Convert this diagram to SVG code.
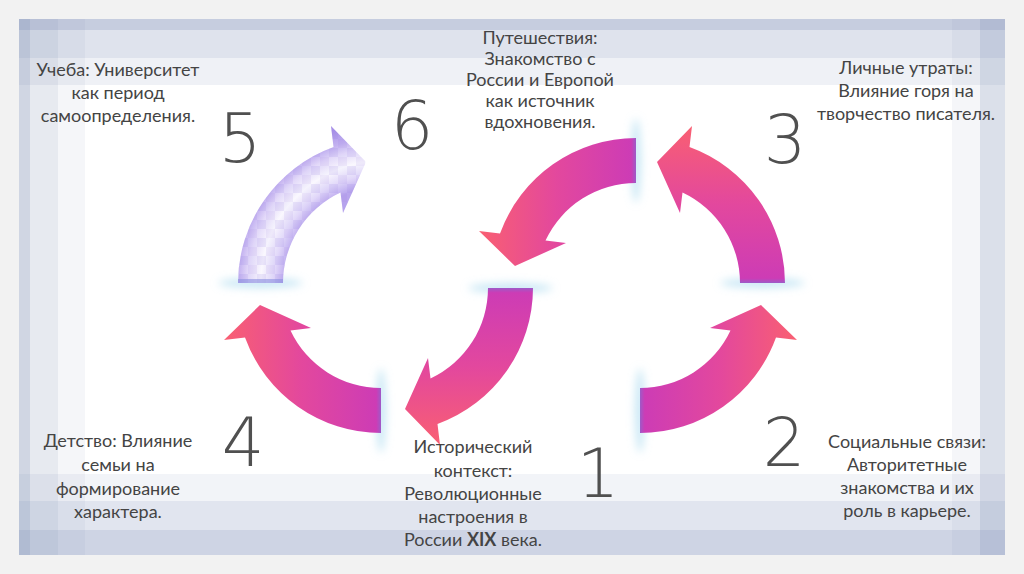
<svg xmlns="http://www.w3.org/2000/svg" width="1024" height="574" viewBox="0 0 1024 574">
<defs>
  <style>
    .lbl { font-family: Lato, "Open Sans", "Liberation Sans", sans-serif; font-size: 18px; fill: #444444; text-anchor: middle; }
    .num { font-family: "DejaVu Sans", "Liberation Sans", sans-serif; font-weight: 200; font-size: 67px; fill: #505050; text-anchor: middle; }
    .band { fill: #8090b8; }
  </style>
  <linearGradient id="arrowGrad" gradientUnits="userSpaceOnUse" x1="0" y1="0" x2="0" y2="-160">
    <stop offset="0" stop-color="#9d5ac8"/>
    <stop offset="0.03" stop-color="#cd3cb5"/>
    <stop offset="0.5" stop-color="#e3489d"/>
    <stop offset="1" stop-color="#fa6070"/>
  </linearGradient>
  <radialGradient id="paleGrad" gradientUnits="userSpaceOnUse" cx="0" cy="0" r="165">
    <stop offset="0.58" stop-color="#b9a6ee"/>
    <stop offset="0.66" stop-color="#e2d9fa"/>
    <stop offset="0.74" stop-color="#fcfbff"/>
    <stop offset="0.82" stop-color="#e4dbfa"/>
    <stop offset="0.88" stop-color="#c4b3f1"/>
    <stop offset="1" stop-color="#a28ae6"/>
  </radialGradient>
  <pattern id="pix" patternUnits="userSpaceOnUse" width="18" height="18">
    <rect x="0" y="0" width="9" height="9" fill="#8a70d8" fill-opacity="0.12"/>
    <rect x="9" y="0" width="9" height="9" fill="#8a70d8" fill-opacity="0.02"/>
    <rect x="0" y="9" width="9" height="9" fill="#8a70d8" fill-opacity="0.06"/>
    <rect x="9" y="9" width="9" height="9" fill="#8a70d8" fill-opacity="0.16"/>
  </pattern>
  <filter id="blur" x="-50%" y="-400%" width="200%" height="900%">
    <feGaussianBlur stdDeviation="4"/>
  </filter>
  <path id="arrowShape" d="M145,0 L100,0 A100,100 0 0 0 42.5,-90.5 L40,-70 L17,-121 L52,-157 L49.5,-136 A145,145 0 0 1 145,0 Z"/>
  <ellipse id="glowShape" cx="122.5" cy="0" rx="42" ry="5" fill="#9ad4ec" fill-opacity="0.55" filter="url(#blur)"/>
</defs>

<!-- page and frame -->
<rect x="0" y="0" width="1024" height="574" fill="#f2f2f2"/>
<rect x="19" y="19" width="986" height="536" fill="#ffffff"/>
<g id="frame">
  <rect class="band" x="19" y="19" width="986" height="66" fill-opacity="0.13"/>
  <rect class="band" x="19" y="19" width="986" height="39" fill-opacity="0.14"/>
  <rect class="band" x="19" y="19" width="986" height="11" fill-opacity="0.26"/>
  <rect class="band" x="19" y="474" width="986" height="81" fill-opacity="0.1"/>
  <rect class="band" x="19" y="501" width="986" height="54" fill-opacity="0.14"/>
  <rect class="band" x="19" y="530" width="986" height="25" fill-opacity="0.2"/>
  <rect class="band" x="19" y="19" width="66" height="536" fill-opacity="0.08"/>
  <rect class="band" x="19" y="19" width="39" height="536" fill-opacity="0.12"/>
  <rect class="band" x="19" y="19" width="11" height="536" fill-opacity="0.22"/>
  <rect class="band" x="952" y="19" width="53" height="536" fill-opacity="0.08"/>
  <rect class="band" x="980" y="19" width="25" height="536" fill-opacity="0.22"/>
</g>

<g id="connectors">
  <g id="arrow1" transform="translate(388,288) scale(1,-1)">
    <use href="#glowShape"/>
    <use href="#arrowShape" fill="url(#arrowGrad)"/>
  </g>
  <g id="arrow2" transform="translate(640,288) rotate(90)">
    <use href="#glowShape"/>
    <use href="#arrowShape" fill="url(#arrowGrad)"/>
  </g>
  <g id="arrow3" transform="translate(640,283)">
    <use href="#glowShape"/>
    <use href="#arrowShape" fill="url(#arrowGrad)"/>
  </g>
  <g id="arrow4" transform="translate(381,288) matrix(0,1,1,0,0,0)">
    <use href="#glowShape"/>
    <use href="#arrowShape" fill="url(#arrowGrad)"/>
  </g>
  <g id="arrow5" transform="translate(383,283) scale(-1,1)">
    <use href="#glowShape"/>
    <use href="#arrowShape" fill="url(#paleGrad)"/>
    <use href="#arrowShape" fill="url(#pix)"/>
    <rect x="100" y="-4" width="45" height="4" fill="#8a90e0" fill-opacity="0.6"/>
  </g>
  <g id="arrow6" transform="translate(636,283) rotate(-90)">
    <use href="#glowShape"/>
    <use href="#arrowShape" fill="url(#arrowGrad)"/>
  </g>
</g>

<g id="node1">
  <text class="num" x="598" y="497">1</text>
  <text class="lbl" x="473" y="453">Исторический</text>
  <text class="lbl" x="473" y="477">контекст:</text>
  <text class="lbl" x="473" y="500">Революционные</text>
  <text class="lbl" x="473" y="523">настроения в</text>
  <text class="lbl" x="473" y="546">России <tspan font-weight="bold">XIX</tspan> века.</text>
</g>
<g id="node2">
  <text class="num" x="784" y="466">2</text>
  <text class="lbl" x="907" y="448">Социальные связи:</text>
  <text class="lbl" x="907" y="471">Авторитетные</text>
  <text class="lbl" x="907" y="494">знакомства и их</text>
  <text class="lbl" x="907" y="517">роль в карьере.</text>
</g>
<g id="node3">
  <text class="num" x="785" y="163">3</text>
  <text class="lbl" x="906" y="74">Личные утраты:</text>
  <text class="lbl" x="906" y="97">Влияние горя на</text>
  <text class="lbl" x="906" y="120">творчество писателя.</text>
</g>
<g id="node4">
  <text class="num" x="243" y="466">4</text>
  <text class="lbl" x="118" y="447">Детство: Влияние</text>
  <text class="lbl" x="118" y="471">семьи на</text>
  <text class="lbl" x="118" y="495">формирование</text>
  <text class="lbl" x="118" y="518">характера.</text>
</g>
<g id="node5">
  <text class="num" x="240" y="162">5</text>
  <text class="lbl" x="118" y="76">Учеба: Университет</text>
  <text class="lbl" x="118" y="99">как период</text>
  <text class="lbl" x="118" y="122">самоопределения.</text>
</g>
<g id="node6">
  <text class="num" x="412" y="149">6</text>
  <text class="lbl" x="540" y="44">Путешествия:</text>
  <text class="lbl" x="540" y="65">Знакомство с</text>
  <text class="lbl" x="540" y="86">России и Европой</text>
  <text class="lbl" x="540" y="107">как источник</text>
  <text class="lbl" x="540" y="128">вдохновения.</text>
</g>
</svg>
